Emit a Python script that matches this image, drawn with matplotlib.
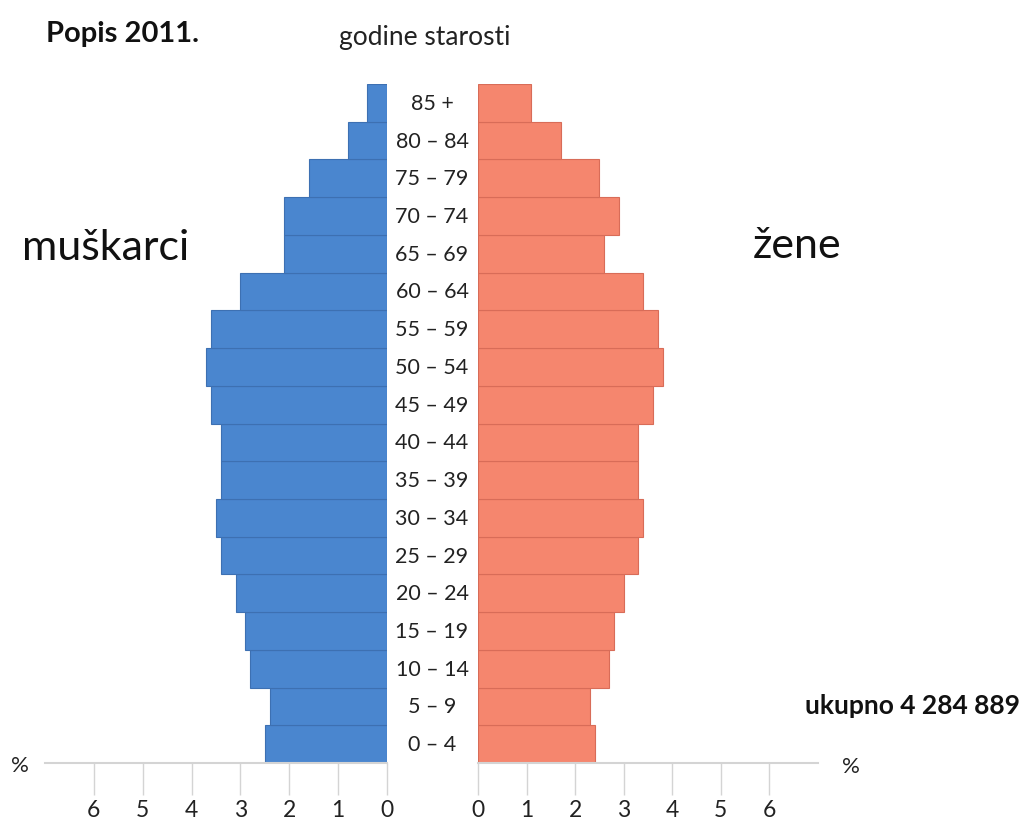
import numpy as np
import matplotlib
matplotlib.use("Agg")
import matplotlib.pyplot as plt
import matplotlib.transforms as mtransforms

plt.rcParams['font.family'] = ['Lato', 'DejaVu Sans']

# age groups from youngest to oldest
ages = ["0 – 4", "5 – 9", "10 – 14", "15 – 19", "20 – 24", "25 – 29", "30 – 34",
        "35 – 39", "40 – 44", "45 – 49", "50 – 54", "55 – 59", "60 – 64",
        "65 – 69", "70 – 74", "75 – 79", "80 – 84", "85 +"]
# share of population in %
muskarci = [2.5, 2.4, 2.8, 2.9, 3.1, 3.4, 3.5, 3.4, 3.4, 3.6, 3.7, 3.6, 3.0,
            2.1, 2.1, 1.6, 0.8, 0.4]
zene = [2.4, 2.3, 2.7, 2.8, 3.0, 3.3, 3.4, 3.3, 3.3, 3.6, 3.8, 3.7, 3.4,
        2.6, 2.9, 2.5, 1.7, 1.1]
ticks = [0, 1, 2, 3, 4, 5, 6]

blue = "#4a86cf"
salmon = "#f5866e"
grey = "#d4d4d4"

fig = plt.figure(figsize=(10.23, 8.28), dpi=100)
ax_l = fig.add_axes([45 / 1023, 1 - 764 / 828, 342 / 1023, 679 / 828])
ax_r = fig.add_axes([478 / 1023, 1 - 764 / 828, 340 / 1023, 679 / 828])

y = np.arange(len(ages))
ax_l.barh(y, muskarci, height=1.0, color=blue, edgecolor="#3d70b2", linewidth=0.8)
ax_r.barh(y, zene, height=1.0, color=salmon, edgecolor="#d86c58", linewidth=0.8)

ax_l.set_xlim(7, 0)
ax_r.set_xlim(0, 7)
for ax in (ax_l, ax_r):
    ax.set_ylim(-0.5, len(ages) - 0.5)
    ax.set_yticks([])
    ax.set_xticks(ticks)
    ax.set_xticklabels([str(t) for t in ticks])
    for s in ("top", "left", "right"):
        ax.spines[s].set_visible(False)
    ax.spines["bottom"].set_color(grey)
    ax.spines["bottom"].set_linewidth(1.5)
    ax.tick_params(axis="x", direction="out", length=23, width=1, color=grey,
                   labelsize=16.5, pad=3, labelcolor="#222222")

# age labels between the two halves
trans = mtransforms.blended_transform_factory(fig.transFigure, ax_l.transData)
for i, lab in enumerate(ages):
    ax_l.text(432 / 1023, i, lab, transform=trans, ha="center", va="center",
              fontsize=15.5, color="#222222")

fig.text(46 / 1023, 1 - 34 / 828, "Popis 2011.", fontsize=21, fontweight="bold",
         ha="left", va="center", color="#111111")
fig.text(425 / 1023, 1 - 37 / 828, "godine starosti", fontsize=19,
         ha="center", va="center", color="#222222")
fig.text(22 / 1023, 1 - 248 / 828, "muškarci", fontsize=31, ha="left",
         va="center", color="#111111")
fig.text(753 / 1023, 1 - 246 / 828, "žene", fontsize=31, ha="left",
         va="center", color="#111111")
fig.text(1020 / 1023, 1 - 706 / 828, "ukupno 4 284 889", fontsize=19,
         fontweight="bold", ha="right", va="center", color="#111111")
fig.text(20 / 1023, 1 - 766 / 828, "%", fontsize=16, ha="center", va="center",
         color="#222222")
fig.text(851 / 1023, 1 - 767 / 828, "%", fontsize=16, ha="center", va="center",
         color="#222222")

fig.savefig("out.png", dpi=100, facecolor="white")
